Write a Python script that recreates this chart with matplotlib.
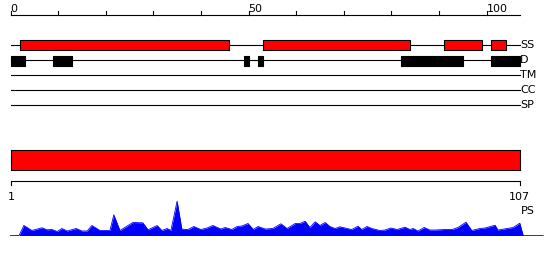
import numpy as np
import matplotlib
matplotlib.use("Agg")
import matplotlib.pyplot as plt

# sequence length and feature tracks (1-based residue ranges)
seq_len = 107
track_names = ["SS", "D", "TM", "CC", "SP"]
ss_start = [3, 54, 92, 102]
ss_end = [46, 84, 99, 104]
d_start = [1, 10, 50, 53, 83, 102]
d_end = [3, 13, 50, 53, 95, 107]

# PS profile (position, score)
ps_pos = [0, 1.8, 2.8, 4.5, 6.6, 7.7, 8.7, 9.8, 10.8, 11.9, 13.8, 15.0, 16.1,
          17.1, 18.8, 20.9, 21.7, 23.0, 25.7, 27.8, 28.9, 30.8, 31.8, 32.9,
          33.7, 35.0, 36.0, 37.3, 38.5, 40.0, 41.3, 42.5, 44.2, 45.1, 46.5,
          47.6, 48.6, 49.9, 51.0, 52.0, 53.5, 55.1, 56.8, 58.1, 59.8, 60.8,
          61.9, 62.9, 64.0, 65.0, 66.1, 67.1, 68.2, 69.2, 70.7, 71.7, 73.0,
          73.8, 74.9, 75.9, 77.6, 78.7, 79.9, 81.2, 82.9, 83.9, 84.6, 85.6,
          86.9, 88.1, 89.2, 91.3, 92.8, 94.0, 95.7, 96.9, 98.6, 99.7, 101.8,
          102.4, 105.6, 107.0, 107.7, 111.9]
ps_val = [0, 0, 10, 5, 7.7, 5.7, 6, 4, 7, 4.5, 7, 4.5, 4.5,
          10, 5, 5, 20.7, 5, 13, 12.7, 5.7, 10, 5, 7,
          5, 34.3, 6.3, 6, 9, 6, 7.5, 10, 6.5, 8, 6,
          9, 9.5, 12, 6, 9, 6.5, 7, 11.7, 7, 12, 12,
          14.3, 8, 13.7, 10, 13, 9, 7, 8.7, 7, 6, 9.3,
          6, 9, 7, 5, 5.5, 7.5, 6, 8.3, 6, 7, 4.5,
          8, 5.5, 5.5, 6, 6, 8, 13.3, 5, 7, 7.5, 10.3,
          5.5, 8, 12.3, 0, 0]

px = 4.76  # pixels per residue
x0 = 10.5  # pixel of residue 0

fig = plt.figure(figsize=(5.5, 2.6), dpi=100)
ax = fig.add_axes([0, 0, 1, 1])
ax.set_xlim(-x0 / px, (550 - x0) / px)
ax.set_ylim(260, 0)
ax.axis("off")

fs = 8
lw = 0.8

# top ruler
ax.plot([0, seq_len], [15, 15], color="black", lw=lw)
for t in range(0, 101, 10):
    ax.plot([t, t], [15, 11], color="black", lw=lw)
for t in [0, 50, 100]:
    ax.text(t, 12.5, str(t), fontsize=fs, ha="left", va="baseline")

# feature tracks
row_y = [45, 60, 75, 90, 105]
for name, y in zip(track_names, row_y):
    ax.plot([0, seq_len], [y, y], color="black", lw=lw, zorder=1)
    ax.text(seq_len + 0.1, y, name, fontsize=fs, ha="left", va="center")

ax.broken_barh([(s - 1, e - s + 1) for s, e in zip(ss_start, ss_end)], (40, 10),
               facecolors="#ff0000", edgecolors="black", linewidth=lw, zorder=2)
ax.broken_barh([(s - 1, e - s + 1) for s, e in zip(d_start, d_end)], (55.5, 10),
               facecolors="black", edgecolors="black", linewidth=lw, zorder=2)

# whole-sequence bar and ruler
ax.broken_barh([(0, seq_len)], (150, 20), facecolors="#ff0000",
               edgecolors="black", linewidth=lw)
ax.plot([0, 0, seq_len, seq_len], [185, 180.5, 180.5, 185], color="black", lw=lw)
ax.text(0.1, 199.5, "1", fontsize=fs, ha="center", va="baseline")
ax.text(seq_len, 199.5, str(seq_len), fontsize=fs, ha="center", va="baseline")
ax.text(seq_len + 0.2, 214.5, "PS", fontsize=fs, ha="left", va="baseline")

# PS profile
base = 235.5
ps_y = base - np.array(ps_val)
ax.fill_between(ps_pos, base, ps_y, color="#0000ff", lw=0)
ax.plot(ps_pos, ps_y, color="#0000ff", lw=0.6)

fig.savefig("out.png", dpi=100)
